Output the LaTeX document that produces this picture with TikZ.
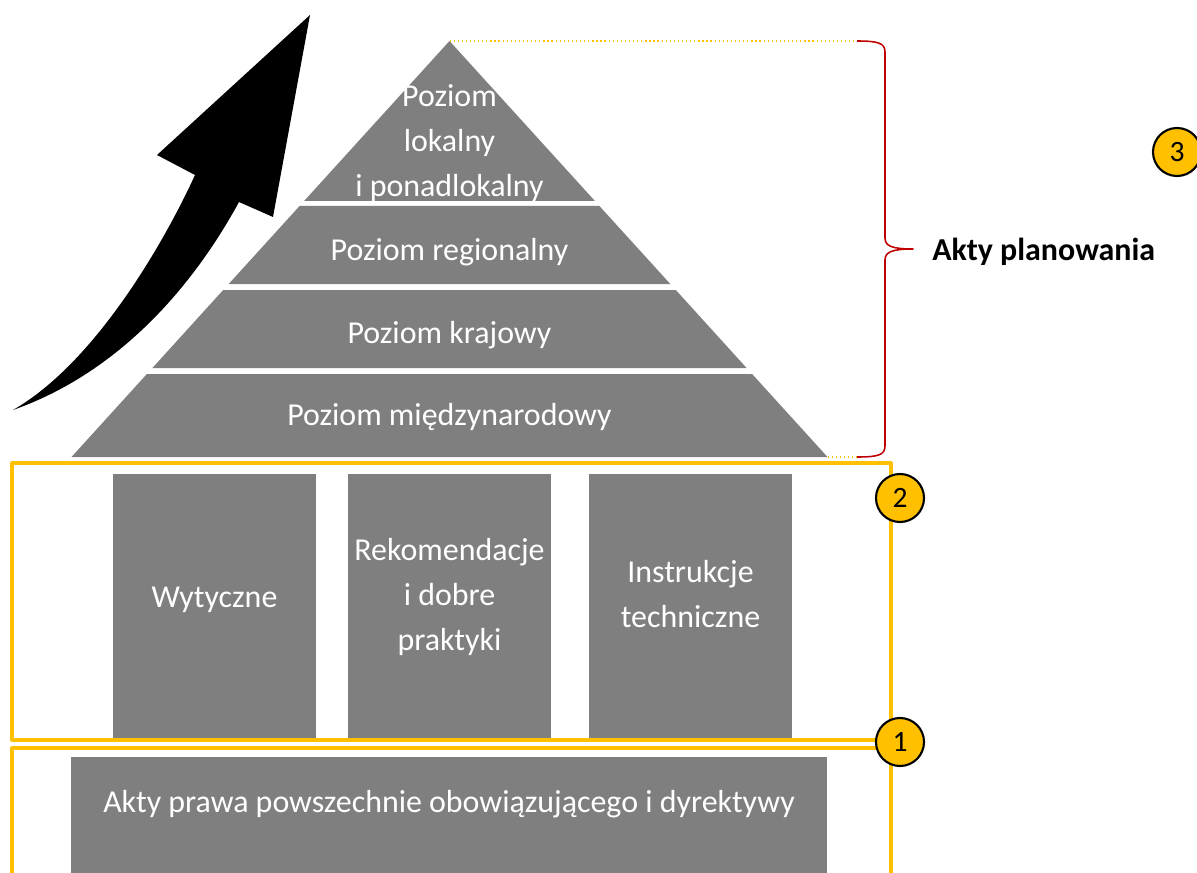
\documentclass[tikz,border=0pt]{standalone}
\usepackage{fontspec}
\setmainfont{Carlito}
\usepackage{tikz}
\usetikzlibrary{calc}
\definecolor{PyrGray}{RGB}{127,127,127}
\definecolor{FrameGold}{RGB}{255,192,0}
\definecolor{BraceRed}{RGB}{192,0,0}
\tikzset{
  pyrlayer/.style  ={fill=PyrGray, draw=none},
  goldframe/.style ={draw=FrameGold, line width=2.2pt},
  leader/.style    ={draw=FrameGold, dotted, line width=0.9pt},
  whitetext/.style ={text=white, font=\fontsize{22.7}{32}\selectfont, align=center, inner sep=0pt},
  badge/.style     ={circle, draw=black, line width=1.5pt, fill=FrameGold,
                     minimum size=1.2cm, inner sep=0pt, font=\fontsize{21}{24}\selectfont},
}

\begin{document}
\begin{tikzpicture}[
  x=0.025cm,y=-0.025cm,
  line join=round
]

% --- Page -----------------------------------------------------------------
\clip (0,0) rectangle (1197,873);
\fill[white] (0,0) rectangle (1197,873);

% --- Rising arrow ---------------------------------------------------------
\fill[black]
  (310,15) -- (273,217) -- (239,202)
  .. controls (210,255) and (140,365) .. (13,410)
  .. controls (100,360) and (170,230) .. (195,175)
  -- (157,155) -- cycle;

% --- Pyramid (4 layers) ---------------------------------------------------
\coordinate (apex) at (449.5,41);
\coordinate (baseR) at (827.5,457);
\fill[pyrlayer] (apex) -- (594.9,201) -- (304.1,201) -- cycle;
\fill[pyrlayer] (299.6,206) -- (599.4,206) -- (670.3,284) -- (228.7,284) -- cycle;
\fill[pyrlayer] (223.2,290) -- (675.8,290) -- (746.6,368) -- (152.4,368) -- cycle;
\fill[pyrlayer] (146.9,374) -- (752.1,374) -- (baseR) -- (71.5,457) -- cycle;

% (base of a multi-line node = last line)
\node[whitetext, anchor=base] (lokalny)  at (449.5,196) {Poziom\\lokalny\\i ponadlokalny};
\node[whitetext, anchor=base] (regional) at (449.5,261) {Poziom regionalny};
\node[whitetext, anchor=base] (krajowy)  at (449.5,343) {Poziom krajowy};
\node[whitetext, anchor=base] (miedzyn)  at (449.5,425) {Poziom międzynarodowy};

% leader lines to the brace
\draw[leader] (apex) -- (857,41);
\draw[leader] (baseR) -- (857,457);

% --- Brace: Akty planowania -----------------------------------------------
\draw[BraceRed, line width=1.1pt]
  (857,41) .. controls (878,41) and (885,43) .. (885,52)
  -- (885,238) .. controls (885,246) and (892,249) .. (913,249)
  .. controls (892,249) and (885,252) .. (885,260)
  -- (885,446) .. controls (885,455) and (878,457) .. (857,457);
\node[anchor=base west, inner sep=0pt, font=\bfseries\fontsize{22.7}{32}\selectfont]
  (planowanie) at (932,260) {Akty planowania};

% --- Middle row: soft documents -------------------------------------------
\fill[PyrGray] (113,474) rectangle (316,739);
\fill[PyrGray] (348,474) rectangle (551,739);
\fill[PyrGray] (589,474) rectangle (792,739);
\node[whitetext, anchor=base] (wytyczne)   at (214.5,607) {Wytyczne};
\node[whitetext, anchor=base] (rekomend)   at (449.5,650) {Rekomendacje\\i dobre\\praktyki};
\node[whitetext, anchor=base] (instrukcje) at (690.5,627) {Instrukcje\\techniczne};

% --- Bottom row: law ------------------------------------------------------
\fill[PyrGray] (71,757) rectangle (827,885);
\node[whitetext, anchor=base] (prawo) at (449,812)
  {Akty prawa powszechnie obowiązującego i dyrektywy};

% --- Gold frames ----------------------------------------------------------
\draw[goldframe] (12,463) rectangle (891,740);
\draw[goldframe] (12,885) -- (12,748) -- (891,748) -- (891,885);

% --- Badges ---------------------------------------------------------------
\node[badge] (badgeA) at (900,742) {1};
\node[badge] (badgeB) at (900,498) {2};
\node[badge] (badgeC) at (1177,152) {3};

\end{tikzpicture}
\end{document}
